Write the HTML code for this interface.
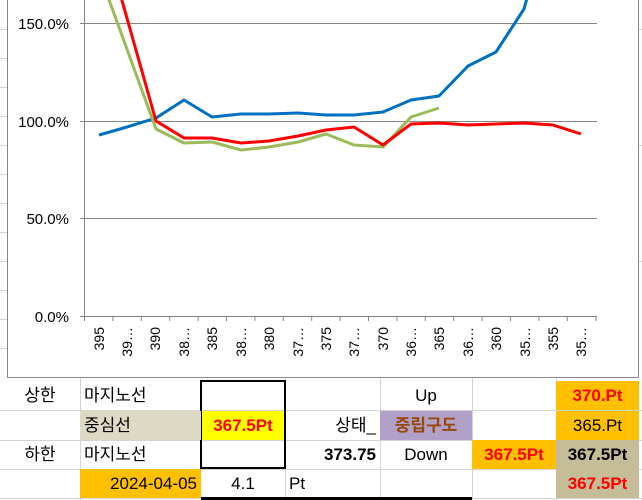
<!DOCTYPE html>
<html><head><meta charset="utf-8"><style>
body{margin:0;width:642px;height:500px;background:#fff;overflow:hidden;position:relative;font-family:"Liberation Sans","Noto Sans CJK KR",sans-serif}
.c{position:absolute;box-sizing:border-box;font-size:17px;line-height:29px;height:29px;white-space:nowrap;padding:0 4px}
</style></head><body>
<svg width="642" height="500" style="position:absolute;left:0;top:0">
<g stroke="#d4d4d4" stroke-width="1">
<line x1="0" y1="29.5" x2="7" y2="29.5"/><line x1="0" y1="58.5" x2="7" y2="58.5"/><line x1="0" y1="87.5" x2="7" y2="87.5"/><line x1="0" y1="116.5" x2="7" y2="116.5"/><line x1="0" y1="145.5" x2="7" y2="145.5"/><line x1="0" y1="174.5" x2="7" y2="174.5"/><line x1="0" y1="203.5" x2="7" y2="203.5"/><line x1="0" y1="232.5" x2="7" y2="232.5"/><line x1="0" y1="261.5" x2="7" y2="261.5"/><line x1="0" y1="290.5" x2="7" y2="290.5"/><line x1="0" y1="319.5" x2="7" y2="319.5"/><line x1="0" y1="348.5" x2="7" y2="348.5"/>
<line x1="639" y1="29.5" x2="642" y2="29.5"/><line x1="639" y1="145.5" x2="642" y2="145.5"/><line x1="639" y1="261.5" x2="642" y2="261.5"/>
<line x1="0" y1="410.5" x2="642" y2="410.5"/><line x1="0" y1="440.5" x2="642" y2="440.5"/><line x1="0" y1="469.5" x2="642" y2="469.5"/><line x1="0" y1="498.5" x2="642" y2="498.5"/>
<line x1="80.5" y1="378" x2="80.5" y2="500"/><line x1="285.5" y1="378" x2="285.5" y2="500"/><line x1="380.5" y1="378" x2="380.5" y2="500"/><line x1="472.5" y1="378" x2="472.5" y2="500"/><line x1="556.5" y1="378" x2="556.5" y2="500"/>
</g>
<rect x="7.5" y="-2" width="631" height="379.5" fill="#fff" stroke="#888"/>
<g stroke="#868686" stroke-width="1">
<line x1="80" y1="23.5" x2="597" y2="23.5"/><line x1="80" y1="121.5" x2="597" y2="121.5"/><line x1="80" y1="218.5" x2="597" y2="218.5"/><line x1="80" y1="316.5" x2="597" y2="316.5"/>
<line x1="84.5" y1="0" x2="84.5" y2="316"/>
</g>
<g stroke="#868686">
<line x1="84.5" y1="316" x2="84.5" y2="321"/><line x1="112.9" y1="316" x2="112.9" y2="321"/><line x1="141.3" y1="316" x2="141.3" y2="321"/><line x1="169.7" y1="316" x2="169.7" y2="321"/><line x1="198.1" y1="316" x2="198.1" y2="321"/><line x1="226.5" y1="316" x2="226.5" y2="321"/><line x1="254.9" y1="316" x2="254.9" y2="321"/><line x1="283.3" y1="316" x2="283.3" y2="321"/><line x1="311.7" y1="316" x2="311.7" y2="321"/><line x1="340.1" y1="316" x2="340.1" y2="321"/><line x1="368.5" y1="316" x2="368.5" y2="321"/><line x1="396.9" y1="316" x2="396.9" y2="321"/><line x1="425.3" y1="316" x2="425.3" y2="321"/><line x1="453.7" y1="316" x2="453.7" y2="321"/><line x1="482.1" y1="316" x2="482.1" y2="321"/><line x1="510.5" y1="316" x2="510.5" y2="321"/><line x1="538.9" y1="316" x2="538.9" y2="321"/><line x1="567.3" y1="316" x2="567.3" y2="321"/><line x1="596" y1="316" x2="596" y2="321"/>
</g>
<g font-family="Liberation Sans, sans-serif" font-size="15" fill="#000" text-anchor="end">
<text x="69" y="29">150.0%</text><text x="69" y="127">100.0%</text><text x="69" y="224">50.0%</text><text x="69" y="322">0.0%</text>
</g>
<g font-family="Liberation Sans, sans-serif" font-size="14" fill="#000" text-anchor="end">
<text transform="translate(104,327) rotate(-90)">395</text>
<text transform="translate(132,327) rotate(-90)">39…</text>
<text transform="translate(160,327) rotate(-90)">390</text>
<text transform="translate(189,327) rotate(-90)">38…</text>
<text transform="translate(217,327) rotate(-90)">385</text>
<text transform="translate(246,327) rotate(-90)">38…</text>
<text transform="translate(274,327) rotate(-90)">380</text>
<text transform="translate(303,327) rotate(-90)">37…</text>
<text transform="translate(331,327) rotate(-90)">375</text>
<text transform="translate(359,327) rotate(-90)">37…</text>
<text transform="translate(388,327) rotate(-90)">370</text>
<text transform="translate(416,327) rotate(-90)">36…</text>
<text transform="translate(444,327) rotate(-90)">365</text>
<text transform="translate(473,327) rotate(-90)">36…</text>
<text transform="translate(501,327) rotate(-90)">360</text>
<text transform="translate(530,327) rotate(-90)">35…</text>
<text transform="translate(558,327) rotate(-90)">355</text>
<text transform="translate(586,327) rotate(-90)">35…</text>
</g>
<g fill="none" stroke-width="3" stroke-linejoin="round">
<polyline stroke="#0070C0" points="99,135 127,127 156,118 184,100 212,117 241,114 269,114 298,113 326,115 354,115 383,112 411,100 439,96 468,66 496,52 524,9 527,-2"/>
<polyline stroke="#9BBB59" points="108,-3 156,129 184,143 212,142 241,150 269,147 298,142 326,134 354,145 383,147 411,117 439,108"/>
<polyline stroke="#FF0000" points="121,-3 156,121 184,138 212,138 241,143 269,141 298,136 326,130 354,127 383,145 411,124 439,123 468,125 496,124 524,123 553,125 581,134"/>
</g>
<rect x="201" y="381" width="84" height="87" fill="none" stroke="#000" stroke-width="2"/>
<line x1="201" y1="498.5" x2="472" y2="498.5" stroke="#000" stroke-width="3"/>
</svg>
<div class="c" style="left:0;top:381px;width:80px;text-align:center">상한</div>
<div class="c" style="left:80px;top:381px;width:121px">마지노선</div>
<div class="c" style="left:380px;top:381px;width:92px;text-align:center">Up</div>
<div class="c" style="left:556px;top:381px;width:83px;background:#FFC000;color:#f00;font-weight:bold;text-align:center">370.Pt</div>
<div class="c" style="left:80px;top:411px;width:121px;background:#DDD9C4">중심선</div>
<div class="c" style="left:202px;top:411px;width:82px;background:#FFFF00;color:#f00;font-weight:bold;text-align:center">367.5Pt</div>
<div class="c" style="left:285px;top:411px;width:95px;text-align:right">상태_</div>
<div class="c" style="left:380px;top:411px;width:92px;background:#B1A0C7;color:#974706;font-weight:bold;text-align:center">중립구도</div>
<div class="c" style="left:556px;top:411px;width:83px;background:#FFC000;text-align:center">365.Pt</div>
<div class="c" style="left:0;top:440px;width:80px;text-align:center">하한</div>
<div class="c" style="left:80px;top:440px;width:121px">마지노선</div>
<div class="c" style="left:285px;top:440px;width:95px;text-align:right;font-weight:bold">373.75</div>
<div class="c" style="left:380px;top:440px;width:92px;text-align:center">Down</div>
<div class="c" style="left:472px;top:440px;width:84px;background:#FFC000;color:#f00;font-weight:bold;text-align:center">367.5Pt</div>
<div class="c" style="left:556px;top:440px;width:83px;background:#C4BD97;font-weight:bold;text-align:center">367.5Pt</div>
<div class="c" style="left:80px;top:469px;width:121px;background:#FFC000;text-align:right">2024-04-05</div>
<div class="c" style="left:201px;top:469px;width:84px;text-align:center">4.1</div>
<div class="c" style="left:285px;top:469px;width:95px">Pt</div>
<div class="c" style="left:556px;top:469px;width:83px;background:#C4BD97;color:#f00;font-weight:bold;text-align:center">367.5Pt</div>
</body></html>
